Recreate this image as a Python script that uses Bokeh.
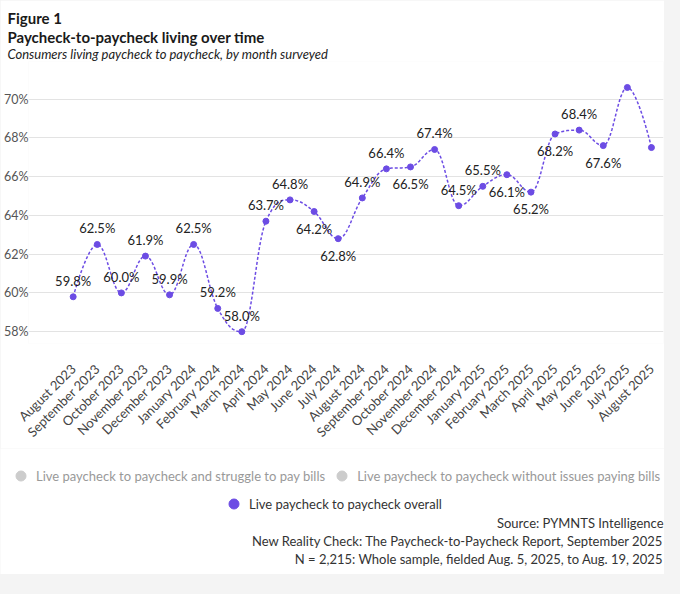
import math
from bokeh.plotting import figure
from bokeh.layouts import column, row
from bokeh.models import (ColumnDataSource, FixedTicker, Legend, LegendItem, Title, Label,
                          Range1d, PrintfTickFormatter)
from bokeh.core.properties import value
from bokeh.embed import file_html
from bokeh.resources import INLINE

# ---------------- data ----------------
months = ["August 2023", "September 2023", "October 2023", "November 2023", "December 2023",
          "January 2024", "February 2024", "March 2024", "April 2024", "May 2024", "June 2024",
          "July 2024", "August 2024", "September 2024", "October 2024", "November 2024",
          "December 2024", "January 2025", "February 2025", "March 2025", "April 2025",
          "May 2025", "June 2025", "July 2025", "August 2025"]
overall = [59.8, 62.5, 60.0, 61.9, 59.9, 62.5, 59.2, 58.0, 63.7, 64.8, 64.2, 62.8, 64.9,
           66.4, 66.5, 67.4, 64.5, 65.5, 66.1, 65.2, 68.2, 68.4, 67.6, 70.6, 67.5]
show_label = [True] * 23 + [False, False]
label_side = ["above", "above", "above", "above", "above", "above", "above", "above",
              "above", "above", "below", "below", "above", "above", "below", "above",
              "above", "above", "below", "below", "below", "above", "below", "", ""]
y_ticks = [58, 60, 62, 64, 66, 68, 70]

legend_struggle = "Live paycheck to paycheck and struggle to pay bills"
legend_noissue = "Live paycheck to paycheck without issues paying bills"
legend_overall = "Live paycheck to paycheck overall"

fig_label = "Figure 1"
title_text = "Paycheck-to-paycheck living over time"
subtitle_text = "Consumers living paycheck to paycheck, by month surveyed"
source_lines = ["Source: PYMNTS Intelligence",
                "New Reality Check: The Paycheck-to-Paycheck Report, September 2025",
                "N = 2,215: Whole sample, fielded Aug. 5, 2025, to Aug. 19, 2025"]

PURPLE = "#6c4ce4"
GRAY_DOT = "#cccccc"
FONT = "Lato"

# ---------------- spline (Highcharts-like smoothing) ----------------
def spline(xs, ys, smoothing=1.5, steps=20):
    n = len(xs)
    lc = [None] * n
    rc = [None] * n
    d = smoothing + 1
    for i in range(1, n - 1):
        px, py = xs[i], ys[i]
        lx, ly = xs[i - 1], ys[i - 1]
        nx, ny = xs[i + 1], ys[i + 1]
        lcx = (smoothing * px + lx) / d
        lcy = (smoothing * py + ly) / d
        rcx = (smoothing * px + nx) / d
        rcy = (smoothing * py + ny) / d
        if rcx != lcx:
            corr = ((rcy - lcy) * (rcx - px)) / (rcx - lcx) + py - rcy
            lcy += corr
            rcy += corr
        if lcy > ly and lcy > py:
            lcy = max(ly, py); rcy = 2 * py - lcy
        elif lcy < ly and lcy < py:
            lcy = min(ly, py); rcy = 2 * py - lcy
        if rcy > ny and rcy > py:
            rcy = max(ny, py); lcy = 2 * py - rcy
        elif rcy < ny and rcy < py:
            rcy = min(ny, py); lcy = 2 * py - rcy
        lc[i] = (lcx, lcy)
        rc[i] = (rcx, rcy)
    ox, oy = [xs[0]], [ys[0]]
    for i in range(n - 1):
        p0 = (xs[i], ys[i])
        p1 = rc[i] or p0
        p3 = (xs[i + 1], ys[i + 1])
        p2 = lc[i + 1] or p3
        for k in range(1, steps + 1):
            t = k / steps
            a = (1 - t) ** 3; b = 3 * (1 - t) ** 2 * t; c = 3 * (1 - t) * t ** 2; e = t ** 3
            ox.append(a * p0[0] + b * p1[0] + c * p2[0] + e * p3[0])
            oy.append(a * p0[1] + b * p1[1] + c * p2[1] + e * p3[1])
    return ox, oy

xs = list(range(len(months)))
sx, sy = spline(xs, overall)

# ---------------- main chart ----------------
W = 664
H_MAIN = 448
H_FOOT = 126

p = figure(width=W, height=H_MAIN,
           x_range=Range1d(-1.854, 24.5), y_range=Range1d(57.39, 71.94),
           output_backend="svg", toolbar_location=None,
           min_border_left=24, min_border_right=1, min_border_top=61, min_border_bottom=101)
p.title.visible = False
p.outline_line_color = None
p.background_fill_color = "white"
p.border_fill_color = "white"

p.xgrid.visible = False
p.ygrid.ticker = FixedTicker(ticks=y_ticks)
p.ygrid.grid_line_color = "#e3e3e3"
p.ygrid.grid_line_width = 1

p.yaxis.ticker = FixedTicker(ticks=y_ticks)
p.yaxis.formatter = PrintfTickFormatter(format="%d%%")
p.yaxis.axis_line_color = None
p.yaxis.major_tick_line_color = None
p.yaxis.minor_tick_line_color = None
p.yaxis.major_tick_out = 0
p.yaxis.major_tick_in = 0
p.yaxis.minor_tick_out = 0
p.yaxis.major_label_standoff = 0
p.yaxis.major_label_text_font = FONT
p.yaxis.major_label_text_font_size = "12.5px"
p.yaxis.major_label_text_color = "#555555"
p.yaxis.major_label_text_baseline = "bottom"

p.xaxis.ticker = FixedTicker(ticks=xs)
p.xaxis.major_label_overrides = {i: m for i, m in enumerate(months)}
p.xaxis.major_label_orientation = math.pi / 4
p.xaxis.axis_line_color = None
p.xaxis.major_tick_line_color = None
p.xaxis.minor_tick_line_color = None
p.xaxis.major_tick_out = 0
p.xaxis.major_tick_in = 0
p.xaxis.minor_tick_out = 0
p.xaxis.major_label_standoff = 23
p.xaxis.major_label_text_font = FONT
p.xaxis.major_label_text_font_size = "13px"
p.xaxis.major_label_text_color = "#444444"

p.line(sx, sy, line_color=PURPLE, line_width=1.5, line_dash="3 2")
p.scatter(xs, overall, size=6, fill_color=PURPLE, line_color=PURPLE)

lab_x, lab_y, lab_t, lab_off = [], [], [], []
for i, v in enumerate(overall):
    if show_label[i]:
        lab_x.append(xs[i])
        lab_y.append(v)
        lab_t.append(f"{v:.1f}%")
        lab_off.append(-16 if label_side[i] == "above" else 17)
src = ColumnDataSource(dict(x=lab_x, y=lab_y, t=lab_t, off=lab_off))
p.text(x="x", y="y", text="t", y_offset="off", source=src,
       text_font=value(FONT), text_font_size="13px", text_color="#222222",
       text_align="center", text_baseline="middle")

p.add_layout(Title(text=subtitle_text, align="left", offset=-21, standoff=0,
                   text_font=FONT, text_font_style="italic", text_font_size="13px",
                   text_color="#222222"), "above")
p.add_layout(Title(text=title_text, align="left", offset=-21, standoff=-4,
                   text_font=FONT, text_font_style="bold", text_font_size="15px",
                   text_color="#1a1a1a"), "above")
p.add_layout(Title(text=fig_label, align="left", offset=-21, standoff=1,
                   text_font=FONT, text_font_style="bold", text_font_size="15px",
                   text_color="#1a1a1a"), "above")

# ---------------- footer: legend + source ----------------
f = figure(width=W, height=H_FOOT, x_range=Range1d(0, W), y_range=Range1d(0, H_FOOT),
           x_axis_location=None, y_axis_location=None,
           output_backend="svg", toolbar_location=None,
           min_border=0, min_border_left=0, min_border_right=0,
           min_border_top=0, min_border_bottom=0)
f.title.visible = False
f.grid.visible = False
f.outline_line_color = None
f.background_fill_color = "white"
f.border_fill_color = "white"

nan = float("nan")
r_struggle = f.scatter([nan], [nan], size=10, fill_color=GRAY_DOT, line_color=GRAY_DOT)
r_noissue = f.scatter([nan], [nan], size=10, fill_color=GRAY_DOT, line_color=GRAY_DOT)
r_overall = f.scatter([nan], [nan], size=10, fill_color=PURPLE, line_color=PURPLE)

leg_common = dict(orientation="horizontal",
                  glyph_width=25, glyph_height=25, label_standoff=3, spacing=4,
                  padding=0, margin=0, border_line_color=None, background_fill_alpha=0,
                  label_text_font=FONT, label_text_font_size="13px")
leg1 = Legend(items=[LegendItem(label=legend_struggle, renderers=[r_struggle]),
                     LegendItem(label=legend_noissue, renderers=[r_noissue])],
              location=(8, 86), label_text_color="#999999", **leg_common)
leg2 = Legend(items=[LegendItem(label=legend_overall, renderers=[r_overall])],
              location=(221, 58), label_text_color="#333333", **leg_common)
f.add_layout(leg1)
f.add_layout(leg2)

for yy, txt in zip([52, 34, 16], source_lines):
    f.add_layout(Label(x=663, y=yy, x_units="screen", y_units="screen", text=txt,
                       text_font=FONT, text_font_size="13px", text_color="#333333",
                       text_align="right", text_baseline="middle"))

layout = column(p, row(f), spacing=0)
html = file_html(layout, INLINE)
html = html.replace("<body>", '<body style="background:#f4f4f4">')
open("out.html", "w").write(html)
